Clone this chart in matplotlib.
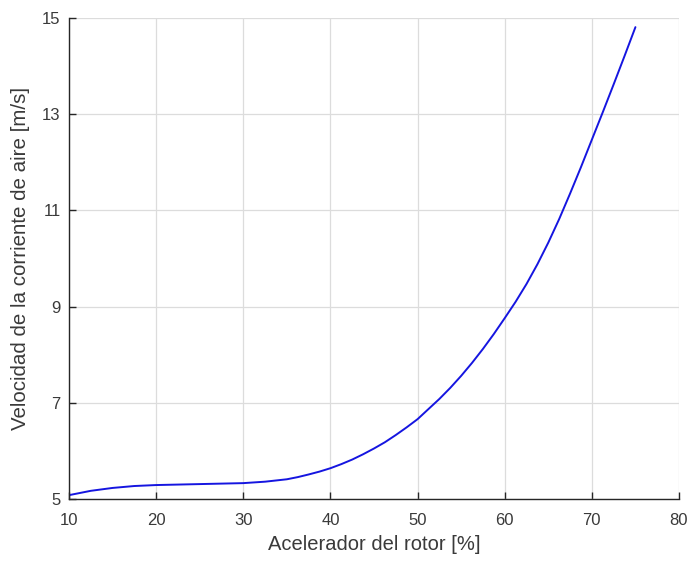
import matplotlib
matplotlib.use("Agg")
import matplotlib.pyplot as plt

acelerador = [10, 12.5, 15, 17.5, 20, 22.5, 25, 27.5, 30, 32.5, 35, 36.25, 37.5,
              38.75, 40, 41.25, 42.5, 43.75, 45, 46.25, 47.5, 48.75, 50, 51.25,
              52.5, 53.75, 55, 56.25, 57.5, 58.75, 60, 61.25, 62.5, 63.75, 65,
              66.25, 67.5, 68.75, 70, 71.25, 72.5, 73.75, 75]
velocidad = [5.08, 5.17, 5.23, 5.27, 5.29, 5.30, 5.31, 5.32, 5.33, 5.36, 5.41, 5.455, 5.51,
             5.57, 5.64, 5.725, 5.82, 5.93, 6.05, 6.18, 6.33, 6.49, 6.66, 6.87,
             7.08, 7.31, 7.56, 7.83, 8.12, 8.43, 8.76, 9.10, 9.47, 9.88, 10.33,
             10.82, 11.35, 11.90, 12.47, 13.04, 13.62, 14.21, 14.81]
xticks = [10, 20, 30, 40, 50, 60, 70, 80]
yticks = [5, 7, 9, 11, 13, 15]

plt.rcParams['font.family'] = ['Liberation Sans', 'DejaVu Sans']

fig = plt.figure(figsize=(6.93, 5.66), dpi=100)
ax = fig.add_axes([69/693, 1-499/566, (679-69)/693, (499-18)/566])

ax.plot(acelerador, velocidad, color='#1515e0', lw=1.4,
        solid_joinstyle='round', solid_capstyle='round')

ax.set_xlim(10, 80)
ax.set_ylim(5, 15)
ax.set_xticks(xticks)
ax.set_yticks(yticks)
ax.grid(True, color='#dcdcdc', lw=0.9)
ax.set_axisbelow(True)
for s in ['top', 'right']:
    ax.spines[s].set_visible(False)
for s in ['left', 'bottom']:
    ax.spines[s].set_color('#262626')
    ax.spines[s].set_linewidth(1.0)
ax.tick_params(direction='in', length=5, width=1.0, color='#262626',
               labelsize=12, labelcolor='#3a3a3a')
ax.tick_params(axis='x', pad=10)
ax.tick_params(axis='y', pad=6)

ax.set_xlabel('Acelerador del rotor [%]', fontsize=14.5, color='#3a3a3a', labelpad=5)
ax.set_ylabel('Velocidad de la corriente de aire [m/s]', fontsize=14.8, color='#3a3a3a', labelpad=9)

fig.savefig('out.png', dpi=100)
